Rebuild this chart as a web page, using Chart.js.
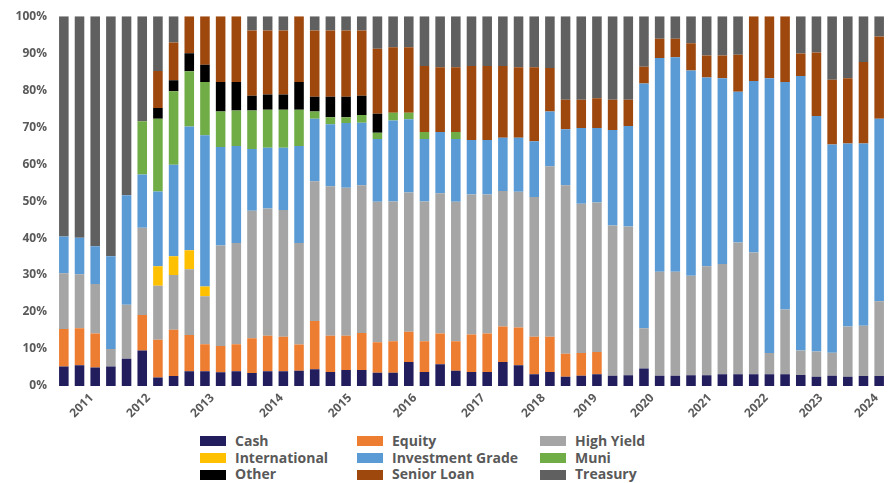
<!DOCTYPE html>
<html lang="en">
  <head>
    <meta charset="UTF-8" />
    <title>Portfolio allocation</title>
    <script src="https://cdn.jsdelivr.net/npm/chart.js@4.4.1/dist/chart.umd.min.js"></script>
    <style>
      * {
        font-family: "Open Sans", sans-serif;
      }
      body {
        margin: 0;
        background: #fff;
      }
      #wrap {
        position: relative;
        width: 889px;
        height: 483px;
      }
      #legend {
        position: absolute;
        left: 200px;
        top: 433px;
        display: grid;
        grid-template-columns: 157px 183px auto;
        grid-auto-rows: 16.7px;
      }
      .item {
        display: flex;
        align-items: center;
        font-size: 14px;
        font-weight: bold;
        color: #595959;
        line-height: 16.7px;
        white-space: nowrap;
      }
      .box {
        width: 26px;
        height: 10px;
        margin-right: 9px;
      }
    </style>
  </head>
  <body>
    <div id="wrap">
      <canvas id="myChart" width="889" height="430"></canvas>
      <div id="legend"></div>
    </div>
    <script>
      // one bar per period, 53 of them
      const periods = Array.from({ length: 53 }, (_, i) => "P" + (i + 1));

      // year labels and the period (bar index) each one sits under
      const years = ["2011", "2012", "2013", "2014", "2015", "2016", "2017", "2018", "2019", "2020", "2021", "2022", "2023", "2024"];
      const yearAt = [2.77, 6.39, 10.47, 14.87, 19.25, 23.4, 27.75, 31.58, 34.9, 38.53, 42.21, 45.8, 49.29, 52.82];

      const yTicks = [0, 10, 20, 30, 40, 50, 60, 70, 80, 90, 100];

      // % of portfolio, bottom of the stack first
      const cash = [5.3, 5.6, 5.0, 5.3, 7.4, 9.6, 2.3, 2.7, 4.0, 4.0, 3.7, 4.0, 3.5, 4.0, 4.0, 4.1, 4.5, 3.8, 4.3, 4.3, 3.6, 3.6, 6.5, 3.8, 5.9, 4.1, 3.8, 3.8, 6.5, 5.6, 3.2, 3.8, 2.5, 2.8, 3.2, 2.8, 2.9, 4.7, 2.8, 2.8, 2.9, 2.9, 3.2, 3.2, 3.2, 3.2, 3.2, 3.0, 2.5, 2.8, 2.5, 2.7, 2.7];
      const equity = [10.1, 10.0, 9.2, 0, 0, 9.6, 10.2, 12.5, 9.8, 7.3, 7.1, 7.3, 9.4, 9.6, 9.3, 7.1, 13.1, 9.8, 9.3, 10.0, 8.2, 8.5, 8.2, 8.3, 8.3, 8.0, 10.1, 10.4, 9.6, 10.2, 10.1, 9.5, 6.2, 6.1, 6.0, 0, 0, 0, 0, 0, 0, 0, 0, 0, 0, 0, 0, 0, 0, 0, 0, 0, 0];
      const highYield = [15.1, 14.6, 13.4, 4.7, 14.6, 23.6, 14.6, 14.8, 17.8, 13.0, 27.2, 27.4, 34.5, 34.4, 34.3, 27.5, 37.8, 40.4, 40.0, 40.0, 38.0, 37.8, 37.6, 37.8, 37.9, 37.7, 37.9, 37.6, 36.6, 36.7, 37.8, 46.1, 45.6, 40.4, 40.4, 40.6, 40.2, 10.9, 28.1, 28.1, 26.9, 29.5, 29.8, 35.6, 32.9, 5.7, 17.5, 6.6, 6.8, 6.2, 13.6, 13.6, 20.2];
      const international = [0, 0, 0, 0, 0, 0, 5.3, 5.1, 5.1, 2.6, 0, 0, 0, 0, 0, 0, 0, 0, 0, 0, 0, 0, 0, 0, 0, 0, 0, 0, 0, 0, 0, 0, 0, 0, 0, 0, 0, 0, 0, 0, 0, 0, 0, 0, 0, 0, 0, 0, 0, 0, 0, 0, 0];
      const investmentGrade = [9.9, 9.9, 10.2, 25.1, 29.6, 14.4, 20.2, 24.7, 33.5, 40.9, 26.6, 26.2, 16.7, 16.4, 16.8, 26.2, 16.9, 16.8, 17.5, 16.9, 17.0, 21.9, 19.8, 16.9, 16.6, 17.0, 14.7, 14.7, 14.4, 14.6, 15.1, 14.8, 15.1, 20.5, 20.2, 25.8, 27.2, 66.2, 57.8, 58.0, 55.5, 51.0, 50.2, 40.8, 46.4, 74.3, 61.5, 74.2, 63.7, 56.3, 49.5, 49.3, 49.4];
      const muni = [0, 0, 0, 0, 0, 14.4, 19.7, 19.9, 14.9, 14.4, 9.6, 9.6, 10.4, 10.3, 10.3, 9.8, 1.9, 1.9, 1.6, 2.1, 1.7, 2.1, 1.8, 1.9, 0, 1.9, 0, 0, 0, 0, 0, 0, 0, 0, 0, 0, 0, 0, 0, 0, 0, 0, 0, 0, 0, 0, 0, 0, 0, 0, 0, 0, 0];
      const other = [0, 0, 0, 0, 0, 0, 2.9, 3.0, 4.9, 4.7, 8.0, 7.7, 4.0, 4.1, 4.1, 7.5, 4.0, 5.5, 5.5, 5.2, 5.1, 0, 0, 0, 0, 0, 0, 0, 0, 0, 0, 0, 0, 0, 0, 0, 0, 0, 0, 0, 0, 0, 0, 0, 0, 0, 0, 0, 0, 0, 0, 0, 0];
      const seniorLoan = [0, 0, 0, 0, 0, 0, 10.0, 10.2, 10.0, 13.1, 17.8, 17.8, 17.6, 17.3, 17.3, 17.8, 17.9, 17.9, 17.9, 17.6, 17.6, 17.7, 17.7, 17.8, 17.5, 17.5, 20.0, 20.0, 19.4, 19.1, 20.0, 11.8, 8.0, 7.6, 8.0, 8.2, 7.1, 4.5, 5.2, 5.0, 7.4, 6.0, 6.2, 10.0, 17.5, 16.8, 17.8, 6.1, 17.2, 17.5, 17.6, 22.0, 22.2];
      const treasury = [59.6, 59.9, 62.2, 64.9, 48.4, 28.4, 14.8, 7.1, 0, 0, 0, 0, 3.9, 3.9, 3.9, 0, 3.9, 3.9, 3.9, 3.9, 8.8, 8.4, 8.4, 13.5, 13.8, 13.8, 13.5, 13.5, 13.5, 13.8, 13.8, 14.0, 22.6, 22.6, 22.2, 22.6, 22.6, 13.7, 6.1, 6.1, 7.3, 10.6, 10.6, 10.4, 0, 0, 0, 10.1, 9.8, 17.2, 16.8, 12.4, 5.5];

      const series = [
        { label: "Cash", data: cash, color: "#221E5E" },
        { label: "Equity", data: equity, color: "#ED7D31" },
        { label: "High Yield", data: highYield, color: "#A5A5A5" },
        { label: "International", data: international, color: "#FFC000" },
        { label: "Investment Grade", data: investmentGrade, color: "#5B9BD5" },
        { label: "Muni", data: muni, color: "#70AD47" },
        { label: "Other", data: other, color: "#000000" },
        { label: "Senior Loan", data: seniorLoan, color: "#9E480E" },
        { label: "Treasury", data: treasury, color: "#606060" },
      ];

      const tickFont = { family: "'Open Sans', sans-serif", size: 12, weight: "bold" };
      const ctx = document.getElementById("myChart").getContext("2d");

      new Chart(ctx, {
        type: "bar",
        data: {
          labels: periods,
          datasets: series.map((s) => ({
            label: s.label,
            data: s.data,
            backgroundColor: s.color,
            borderWidth: 0,
            barPercentage: 0.61,
            categoryPercentage: 1,
          })),
        },
        options: {
          responsive: false,
          animation: false,
          devicePixelRatio: 1,
          layout: { padding: { left: 0, right: 2, top: 11, bottom: 0 } },
          scales: {
            x: {
              stacked: true,
              display: false,
            },
            // year labels only, same span as the bars
            x2: {
              type: "linear",
              position: "bottom",
              min: 0.5,
              max: 53.5,
              offset: false,
              grid: { display: false, drawTicks: false, offset: false },
              border: { display: false },
              afterBuildTicks: (axis) => {
                axis.ticks = yearAt.map((v) => ({ value: v }));
              },
              afterFit: (axis) => {
                axis.height = 44;
                axis.paddingLeft = 0;
                axis.paddingRight = 0;
              },
              ticks: {
                autoSkip: false,
                minRotation: 45,
                maxRotation: 45,
                padding: 5,
                color: "#595959",
                font: tickFont,
                callback: (value, i) => years[i],
              },
            },
            y: {
              stacked: true,
              min: 0,
              max: 100,
              grid: { display: false, drawTicks: false },
              border: { display: false },
              afterBuildTicks: (axis) => {
                axis.ticks = yTicks.map((v) => ({ value: v }));
              },
              afterFit: (axis) => {
                axis.width = 56;
              },
              ticks: {
                padding: 9,
                color: "#595959",
                font: tickFont,
                callback: (value) => value + "%",
              },
            },
          },
          plugins: {
            legend: { display: false },
            tooltip: { enabled: false },
          },
        },
      });

      // legend as a 3 column grid under the chart
      const legend = document.getElementById("legend");
      series.forEach((s) => {
        const item = document.createElement("div");
        item.className = "item";
        const box = document.createElement("span");
        box.className = "box";
        box.style.background = s.color;
        item.appendChild(box);
        item.appendChild(document.createTextNode(s.label));
        legend.appendChild(item);
      });
    </script>
  </body>
</html>
